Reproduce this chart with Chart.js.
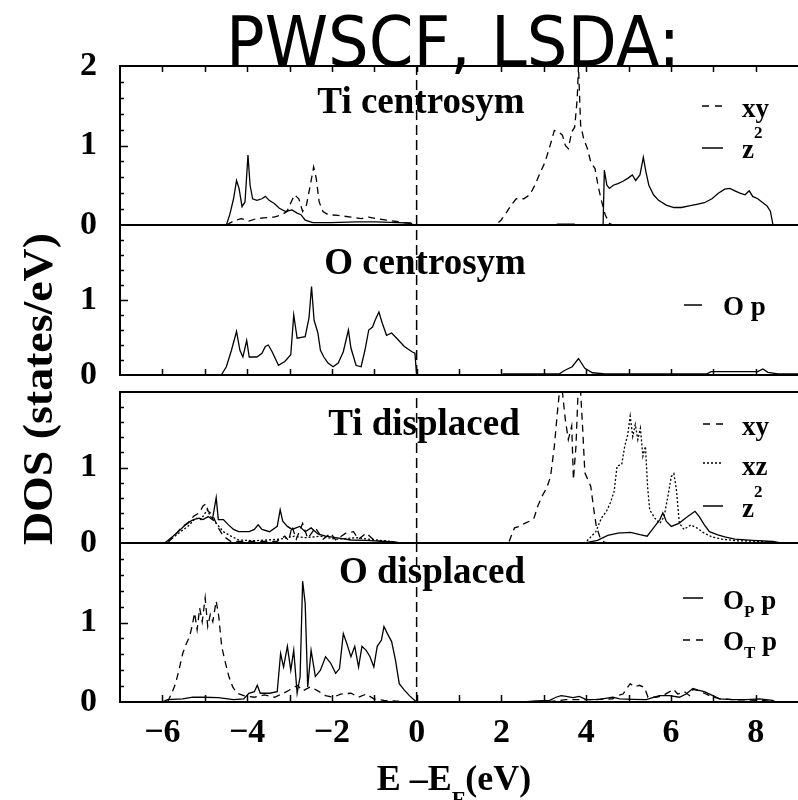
<!DOCTYPE html>
<html lang="en">
<head>
<meta charset="UTF-8">
<title>PWSCF, LSDA: DOS</title>
<script src="https://cdn.jsdelivr.net/npm/chart.js"></script>
<style>
  html, body { margin: 0; padding: 0; background: #fff; overflow: hidden; }
  #dosChart { display: block; width: 798px; height: 800px; }
</style>
</head>
<body>
<canvas id="dosChart" width="798" height="800"></canvas>

<script>
// axis ticks
const xTicks = [-7, -6, -5, -4, -3, -2, -1, 0, 1, 2, 3, 4, 5, 6, 7, 8, 9];
const xLabeled = [-6, -4, -2, 0, 2, 4, 6, 8];
const yTicks = [0, 0.2, 0.4, 0.6, 0.8, 1, 1.2, 1.4, 1.6, 1.8, 2];
const yLabeled = [0, 1, 2];

// DOS curves as [E - EF (eV), DOS (states/eV)]
// Ti centrosym
const tiCenXy = [[-4.49,0],[-4.32,0.05],[-4.14,0.08],[-3.96,0.05],[-3.78,0.08],[-3.6,0.09],[-3.36,0.1],[-3.18,0.13],[-3.06,0.17],[-2.96,0.29],[-2.88,0.38],[-2.78,0.33],[-2.69,0.17],[-2.6,0.25],[-2.51,0.5],[-2.43,0.73],[-2.37,0.59],[-2.3,0.29],[-2.21,0.17],[-2.09,0.13],[-1.85,0.12],[-1.55,0.1],[-1.31,0.08],[-1.13,0.1],[-0.95,0.08],[-0.71,0.06],[-0.41,0.04],[-0.17,0.02],[-0.05,0],
  [1.87,0],[1.99,0.06],[2.11,0.15],[2.23,0.25],[2.35,0.33],[2.53,0.33],[2.67,0.38],[2.79,0.5],[2.91,0.65],[3.03,0.79],[3.15,1.0],[3.25,1.19],[3.35,1.17],[3.44,1.13],[3.51,1.0],[3.58,0.96],[3.66,1.17],[3.73,1.23],[3.79,1.59],[3.82,2.0],[3.87,1.26],[3.94,1.09],[4.03,0.96],[4.11,0.79],[4.21,0.71],[4.28,0.5],[4.35,0.33],[4.45,0.13],[4.55,0.02],[4.63,0]];
const tiCenZ2 = [[-4.49,0],[-4.41,0.13],[-4.32,0.33],[-4.25,0.56],[-4.19,0.46],[-4.12,0.23],[-4.05,0.29],[-3.98,0.88],[-3.93,0.5],[-3.87,0.33],[-3.77,0.31],[-3.65,0.33],[-3.57,0.36],[-3.48,0.31],[-3.36,0.27],[-3.24,0.21],[-3.09,0.17],[-2.94,0.19],[-2.82,0.15],[-2.73,0.13],[-2.63,0.06],[-2.45,0.03],[-2.03,0.03],[-1.43,0.04],[-0.95,0.04],[-0.47,0.03],[-0.14,0.025],[-0.09,0],
  [3.3,0],[3.32,0.012],[3.72,0.012],[3.74,0],
  [4.4,0],[4.43,0.69],[4.49,0.5],[4.55,0.46],[4.64,0.5],[4.75,0.52],[4.87,0.55],[4.99,0.59],[5.09,0.63],[5.17,0.56],[5.27,0.63],[5.35,0.85],[5.41,0.67],[5.48,0.5],[5.59,0.38],[5.71,0.31],[5.89,0.25],[6.07,0.22],[6.25,0.22],[6.43,0.24],[6.61,0.26],[6.79,0.28],[6.97,0.33],[7.12,0.4],[7.27,0.45],[7.39,0.46],[7.51,0.43],[7.63,0.4],[7.75,0.38],[7.85,0.43],[7.93,0.36],[8.05,0.33],[8.17,0.28],[8.27,0.24],[8.35,0.17],[8.41,0]];

// O centrosym
const oCenOp = [[-4.61,0],[-4.49,0.11],[-4.37,0.33],[-4.25,0.58],[-4.17,0.33],[-4.1,0.24],[-4.01,0.46],[-3.95,0.24],[-3.77,0.24],[-3.65,0.29],[-3.57,0.38],[-3.5,0.4],[-3.41,0.31],[-3.26,0.13],[-3.11,0.18],[-2.97,0.27],[-2.9,0.8],[-2.82,0.49],[-2.63,0.51],[-2.54,0.76],[-2.48,1.18],[-2.42,0.73],[-2.33,0.56],[-2.27,0.33],[-2.19,0.24],[-2.09,0.16],[-1.97,0.11],[-1.85,0.16],[-1.73,0.31],[-1.61,0.6],[-1.55,0.36],[-1.43,0.13],[-1.31,0.11],[-1.22,0.33],[-1.13,0.6],[-1.04,0.64],[-0.98,0.73],[-0.89,0.84],[-0.81,0.69],[-0.71,0.53],[-0.59,0.56],[-0.47,0.49],[-0.29,0.38],[-0.11,0.31],[-0.04,0.29],[0,0],
  [1.99,0],[2.05,0.015],[3.37,0.015],[3.49,0.06],[3.67,0.11],[3.82,0.22],[3.97,0.09],[4.15,0.03],[4.45,0.015],[6.85,0.015],[6.95,0.045],[8.05,0.045],[8.17,0.08],[8.29,0.035],[8.53,0.015],[9,0.015]];

// Ti displaced
const tiDisXy = [[-5.88,0],[-5.69,0.11],[-5.53,0.22],[-5.4,0.26],[-5.27,0.35],[-5.13,0.4],[-5.04,0.49],[-4.97,0.52],[-4.92,0.42],[-4.82,0.38],[-4.7,0.22],[-4.56,0.09],[-4.38,0.02],[-3.3,0.02],[-3.11,0.09],[-3.02,0.03],[-2.94,0.22],[-2.84,0.05],[-2.69,0.26],[-2.57,0.06],[-2.39,0.2],[-2.21,0.05],[-2.03,0.13],[-1.91,0.04],[-1.67,0.13],[-1.49,0.15],[-1.37,0.05],[-1.19,0.13],[-1.01,0.04],[-0.83,0.02],[-0.53,0.01],[-0.47,0],
  [2.17,0],[2.23,0.09],[2.31,0.2],[2.43,0.22],[2.55,0.26],[2.67,0.29],[2.77,0.33],[2.86,0.49],[2.96,0.62],[3.07,0.73],[3.16,0.88],[3.25,1.28],[3.32,1.72],[3.37,2],[3.44,2],[3.51,1.63],[3.58,1.37],[3.66,1.55],[3.7,0.84],[3.76,1.28],[3.81,2],[3.87,2],[3.92,1.5],[3.97,0.93],[4.04,0.84],[4.11,0.75],[4.17,0.49],[4.24,0.22],[4.33,0.07],[4.43,0.01],[4.51,0]];
const tiDisXz = [[-5.94,0],[-5.75,0.07],[-5.57,0.15],[-5.4,0.22],[-5.21,0.33],[-5.09,0.31],[-4.94,0.44],[-4.86,0.35],[-4.73,0.26],[-4.56,0.15],[-4.38,0.09],[-4.2,0.04],[-3.83,0.03],[-3.23,0.05],[-2.88,0.09],[-2.63,0.07],[-2.27,0.09],[-1.91,0.05],[-1.43,0.07],[-0.95,0.04],[-0.59,0.02],[-0.47,0],
  [3.97,0],[4.09,0.07],[4.23,0.15],[4.36,0.33],[4.48,0.42],[4.57,0.53],[4.66,0.68],[4.73,1.02],[4.84,1.04],[4.91,1.28],[4.98,1.43],[5.04,1.68],[5.1,1.41],[5.16,1.57],[5.22,1.37],[5.28,1.52],[5.34,1.15],[5.4,1.28],[5.45,0.75],[5.5,0.44],[5.62,0.33],[5.74,0.26],[5.84,0.35],[5.93,0.62],[6.01,0.88],[6.07,0.92],[6.13,0.71],[6.2,0.26],[6.31,0.18],[6.47,0.24],[6.61,0.2],[6.79,0.13],[6.97,0.08],[7.21,0.05],[7.57,0.03],[8.17,0.02],[8.53,0]];
const tiDisZ2 = [[-5.94,0],[-5.75,0.09],[-5.57,0.18],[-5.42,0.26],[-5.27,0.31],[-5.13,0.33],[-5.04,0.31],[-4.92,0.35],[-4.82,0.31],[-4.73,0.6],[-4.68,0.31],[-4.56,0.31],[-4.44,0.24],[-4.32,0.18],[-4.2,0.15],[-3.95,0.15],[-3.83,0.18],[-3.74,0.24],[-3.65,0.18],[-3.47,0.15],[-3.29,0.22],[-3.22,0.44],[-3.16,0.29],[-3.05,0.22],[-2.94,0.18],[-2.76,0.22],[-2.63,0.15],[-2.49,0.2],[-2.33,0.12],[-2.15,0.09],[-1.91,0.07],[-1.55,0.04],[-1.19,0.035],[-0.71,0.02],[-0.47,0.01],[-0.41,0],
  [3.97,0],[4.27,0.035],[4.51,0.1],[4.75,0.13],[5.05,0.14],[5.27,0.11],[5.44,0.09],[5.59,0.2],[5.74,0.31],[5.81,0.4],[5.89,0.29],[6.01,0.22],[6.19,0.26],[6.35,0.33],[6.47,0.38],[6.57,0.42],[6.67,0.35],[6.79,0.24],[6.91,0.15],[7.09,0.11],[7.27,0.08],[7.51,0.05],[7.93,0.035],[8.41,0.02],[8.59,0]];

// O displaced
const oDisOp = [[-6.0,0],[-5.88,0.03],[-5.52,0.04],[-5.28,0.06],[-5.04,0.06],[-4.68,0.055],[-4.32,0.03],[-4.08,0.04],[-3.96,0.11],[-3.83,0.13],[-3.76,0.21],[-3.69,0.11],[-3.47,0.11],[-3.29,0.13],[-3.21,0.61],[-3.14,0.44],[-3.05,0.7],[-2.97,0.4],[-2.9,0.65],[-2.82,0.11],[-2.75,0.32],[-2.69,1.52],[-2.63,1.24],[-2.57,0.19],[-2.49,0.65],[-2.39,0.32],[-2.27,0.4],[-2.15,0.57],[-2.03,0.49],[-1.91,0.36],[-1.82,0.42],[-1.73,0.86],[-1.65,0.74],[-1.55,0.57],[-1.46,0.7],[-1.37,0.44],[-1.29,0.7],[-1.19,0.65],[-1.1,0.57],[-1.01,0.44],[-0.93,0.7],[-0.83,0.78],[-0.77,0.95],[-0.69,0.86],[-0.59,0.76],[-0.5,0.53],[-0.41,0.23],[-0.29,0.15],[-0.17,0.08],[-0.09,0.04],[0,0],
  [2.51,0],[2.82,0.013],[3.14,0.02],[3.29,0.06],[3.41,0.08],[3.53,0.07],[3.69,0.055],[3.84,0.07],[4.0,0.03],[4.32,0.034],[4.63,0.06],[4.79,0.04],[5.1,0.034],[5.42,0.03],[5.57,0.055],[5.73,0.08],[5.97,0.08],[6.2,0.06],[6.36,0.1],[6.52,0.17],[6.64,0.15],[6.79,0.13],[6.99,0.08],[7.15,0.04],[7.46,0.03],[7.78,0.03],[8.09,0.04],[8.4,0.02],[8.48,0]];
const oDisOt = [[-5.88,0],[-5.78,0.11],[-5.69,0.23],[-5.61,0.4],[-5.52,0.61],[-5.43,0.74],[-5.36,0.82],[-5.3,0.95],[-5.24,1.12],[-5.18,0.91],[-5.12,1.18],[-5.06,1.01],[-4.99,1.31],[-4.93,0.95],[-4.87,1.1],[-4.81,1.01],[-4.73,1.27],[-4.67,1.08],[-4.6,0.7],[-4.53,0.53],[-4.43,0.32],[-4.34,0.19],[-4.24,0.11],[-4.08,0.08],[-3.83,0.06],[-3.59,0.09],[-3.35,0.06],[-3.14,0.11],[-2.97,0.16],[-2.81,0.21],[-2.69,0.14],[-2.51,0.19],[-2.33,0.14],[-2.15,0.08],[-1.97,0.06],[-1.79,0.1],[-1.55,0.11],[-1.37,0.06],[-1.19,0.1],[-1.01,0.04],[-0.77,0.02],[-0.47,0.01],[-0.23,0],
  [3.06,0],[3.53,0.03],[4.16,0.03],[4.63,0.04],[4.72,0.08],[4.87,0.1],[4.96,0.17],[5.04,0.23],[5.14,0.19],[5.26,0.21],[5.38,0.18],[5.46,0.06],[5.65,0.06],[5.81,0.08],[5.97,0.13],[6.06,0.16],[6.16,0.1],[6.32,0.13],[6.44,0.08],[6.53,0.16],[6.67,0.14],[6.79,0.11],[6.91,0.08],[7.15,0.04],[7.46,0.03],[8.17,0.02],[8.48,0]];

// Fermi level marker, drawn in every panel
const fermi = [[0, 0], [0, 2]];

const SERIF = '"Liberation Serif", "Times New Roman", serif';
const panelIds = ['tiCen', 'oCen', 'tiDis', 'oDis'];
const DASH = [7, 5], DOT = [2, 2];

function series(pairs, axis, dash, width) {
  return {
    data: pairs.map(p => ({ x: p[0], y: p[1] })),
    yAxisID: axis,
    borderColor: '#000',
    borderWidth: width || 1.3,
    borderDash: dash || [],
    pointRadius: 0,
    fill: false,
    tension: 0
  };
}

function yLabel(v, showTop) {
  const r = Math.round(v);
  if (Math.abs(v - r) > 1e-6) return '';
  if (r === 2 && !showTop) return '';
  return String(r);
}

function panelAxis(weight, stackWeight, showTop) {
  return {
    type: 'linear', axis: 'y', position: 'left',
    stack: 'dos', stackWeight: stackWeight, weight: weight,
    min: 0, max: 2,
    afterFit: s => { s.width = 120; },
    afterBuildTicks: s => { s.ticks = yTicks.map(v => ({ value: v })); },
    border: { display: true, color: '#000', width: 2 },
    grid: {
      drawTicks: false, lineWidth: 2,
      color: c => (c.tick && (c.tick.value === 0 || c.tick.value === 2)) ? '#000' : 'rgba(0,0,0,0)'
    },
    ticks: {
      autoSkip: false, padding: 23, color: '#000',
      font: { family: SERIF, size: 34, weight: 'bold' },
      callback: v => yLabel(v, showTop)
    }
  };
}

// text run helper: [text, size, dy]
function drawRuns(ctx, x, base, runs) {
  runs.forEach(r => {
    ctx.font = 'bold ' + r[1] + 'px ' + SERIF;
    ctx.fillText(r[0], x, base + (r[2] || 0));
    x += ctx.measureText(r[0]).width;
  });
  return x;
}

function sample(ctx, x0, x1, y, dash) {
  ctx.save();
  ctx.lineWidth = 1.5;
  ctx.setLineDash(dash);
  ctx.beginPath();
  ctx.moveTo(x0, y);
  ctx.lineTo(x1, y);
  ctx.stroke();
  ctx.restore();
}

const decor = {
  id: 'decor',
  afterDatasetsDraw(chart) {
    const ctx = chart.ctx;
    const left = chart.chartArea.left;
    ctx.save();
    ctx.strokeStyle = '#000';
    ctx.lineWidth = 1.5;
    ctx.beginPath();
    // inward y ticks
    panelIds.forEach(id => {
      const s = chart.scales[id];
      yTicks.forEach(v => {
        if (v === 0 || v === 2) return;
        const py = Math.round(s.getPixelForValue(v)) + 0.5;
        const len = yLabeled.includes(v) ? 8 : 4;
        ctx.moveTo(left, py);
        ctx.lineTo(left + len, py);
      });
    });
    // inward x ticks on the outer frame edges
    const xs = chart.scales.x;
    const edges = [[chart.scales.tiCen.top, 6], [chart.scales.oCen.bottom, -6], [chart.scales.oDis.bottom, -7]];
    xTicks.forEach(v => {
      if (v === xTicks[0] || v === xTicks[xTicks.length - 1]) return;
      const px = Math.round(xs.getPixelForValue(v)) + 0.5;
      edges.forEach(e => { ctx.moveTo(px, e[0]); ctx.lineTo(px, e[0] + e[1]); });
    });
    ctx.stroke();
    ctx.restore();
  },
  afterDraw(chart) {
    const ctx = chart.ctx;
    ctx.save();
    ctx.fillStyle = '#000';
    ctx.strokeStyle = '#000';

    // title
    ctx.font = '70px "Comic Sans MS", "DejaVu Sans", sans-serif';
    ctx.textBaseline = 'alphabetic';
    let w = ctx.measureText('PWSCF, LSDA:').width;
    ctx.save();
    ctx.translate(453, 66);
    ctx.scale(454 / w, 1);
    ctx.textAlign = 'center';
    ctx.fillText('PWSCF, LSDA:', 0, 0);
    ctx.restore();

    // y axis title
    ctx.font = 'bold 42px ' + SERIF;
    w = ctx.measureText('DOS (states/eV)').width;
    ctx.save();
    ctx.translate(52, 389);
    ctx.rotate(-Math.PI / 2);
    ctx.scale(312 / w, 1);
    ctx.textAlign = 'center';
    ctx.fillText('DOS (states/eV)', 0, 0);
    ctx.restore();

    // x axis title: E -E_F (eV)
    ctx.textAlign = 'left';
    const xRuns = [['E \u2013E', 36], ['F', 22, 16], ['(eV)', 36]];
    let total = 0;
    xRuns.forEach(r => { ctx.font = 'bold ' + r[1] + 'px ' + SERIF; total += ctx.measureText(r[0]).width; });
    drawRuns(ctx, 454 - total / 2, 790, xRuns);

    // panel titles
    ctx.textAlign = 'center';
    ctx.font = 'bold 37px ' + SERIF;
    ctx.fillText('Ti centrosym', 421, 113);
    ctx.fillText('O centrosym', 425, 274);
    ctx.fillText('Ti displaced', 424, 435);
    ctx.fillText('O displaced', 432, 583);

    // legends
    ctx.textAlign = 'left';
    sample(ctx, 702, 723, 106, [7, 6]);
    drawRuns(ctx, 742, 117, [['xy', 27]]);
    sample(ctx, 702, 723, 148, []);
    drawRuns(ctx, 742, 158, [['z', 27], ['2', 17, -20]]);

    sample(ctx, 684, 702, 305, []);
    drawRuns(ctx, 723, 315, [['O p', 27]]);

    sample(ctx, 703, 723, 424, [7, 6]);
    drawRuns(ctx, 742, 435, [['xy', 27]]);
    sample(ctx, 703, 723, 463, DOT);
    drawRuns(ctx, 742, 475, [['xz', 27]]);
    sample(ctx, 703, 723, 506, []);
    drawRuns(ctx, 742, 517, [['z', 27], ['2', 17, -20]]);

    sample(ctx, 683, 703, 598, []);
    drawRuns(ctx, 723, 609, [['O', 27], ['P', 17, 8], [' p', 27]]);
    sample(ctx, 683, 703, 640, [7, 6]);
    drawRuns(ctx, 723, 650, [['O', 27], ['T', 17, 8], [' p', 27]]);

    ctx.restore();
  }
};

new Chart(document.getElementById('dosChart').getContext('2d'), {
  type: 'line',
  data: {
    datasets: [
      series(tiCenXy, 'tiCen', DASH),
      series(tiCenZ2, 'tiCen'),
      series(fermi, 'tiCen', [10, 5], 1.5),
      series(oCenOp, 'oCen'),
      series(fermi, 'oCen', [10, 5], 1.5),
      series(tiDisXy, 'tiDis', DASH),
      series(tiDisXz, 'tiDis', DOT),
      series(tiDisZ2, 'tiDis'),
      series(fermi, 'tiDis', [10, 5], 1.5),
      series(oDisOp, 'oDis'),
      series(oDisOt, 'oDis', DASH),
      series(fermi, 'oDis', [10, 5], 1.5)
    ]
  },
  options: {
    responsive: false,
    animation: false,
    events: [],
    layout: { padding: { top: 66, left: 0, right: 0, bottom: 0 } },
    plugins: { legend: { display: false }, tooltip: { enabled: false }, title: { display: false } },
    scales: {
      x: {
        type: 'linear', position: 'bottom', min: -7, max: 9,
        afterFit: s => { s.height = 98; s.paddingLeft = 0; s.paddingRight = 0; },
        afterBuildTicks: s => { s.ticks = xTicks.map(v => ({ value: v })); },
        border: { display: false },
        grid: { display: false, drawTicks: false },
        ticks: {
          autoSkip: false, maxRotation: 0, padding: 11, color: '#000',
          font: { family: SERIF, size: 34, weight: 'bold' },
          callback: v => xLabeled.includes(v) ? (v < 0 ? '\u2212' + Math.abs(v) : String(v)) : ''
        }
      },
      tiCen: panelAxis(5, 159, true),
      oCen: panelAxis(4, 150, false),
      gap: {
        type: 'linear', axis: 'y', position: 'left', stack: 'dos', stackWeight: 17, weight: 3,
        min: 0, max: 1,
        afterFit: s => { s.width = 120; },
        border: { display: false }, grid: { display: false, drawTicks: false }, ticks: { display: false }
      },
      tiDis: panelAxis(2, 151, false),
      oDis: panelAxis(1, 159, false)
    }
  },
  plugins: [decor]
});
</script>
</body>
</html>
